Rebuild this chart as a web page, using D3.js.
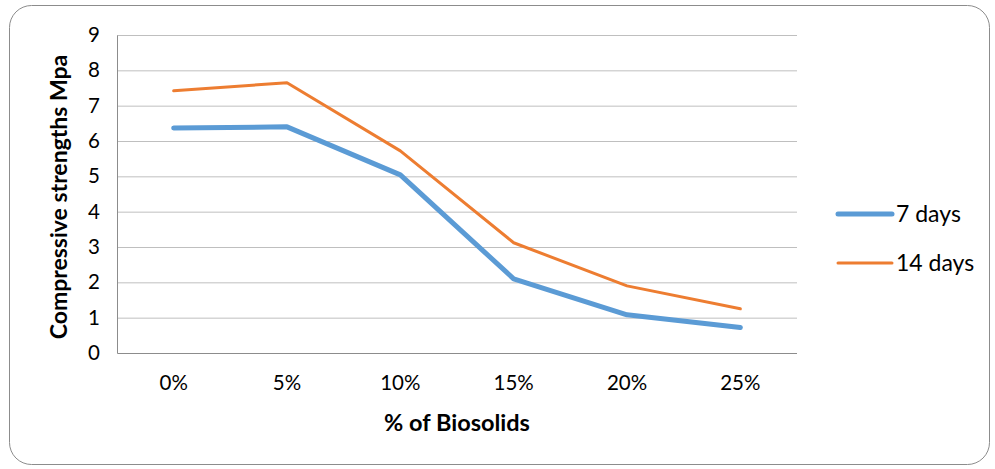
<!DOCTYPE html>
<html>
<head>
<meta charset="utf-8">
<script src="https://cdn.jsdelivr.net/npm/d3@7"></script>
<style>
  body { margin: 0; background: #fff; }
  svg text { font-family: Lato, 'Open Sans', sans-serif; fill: #000; }
</style>
</head>
<body>
<svg id="chart" width="995" height="469"></svg>
<script>
// DATA
const categories = ['0%', '5%', '10%', '15%', '20%', '25%'];
const days7 = [6.37, 6.40, 5.04, 2.10, 1.08, 0.72];
const days14 = [7.42, 7.65, 5.72, 3.12, 1.90, 1.25];
const yTicks = [0, 1, 2, 3, 4, 5, 6, 7, 8, 9];
const seriesNames = ['7 days', '14 days'];

// SETUP
const svg = d3.select('#chart'),
  margin = { top: 35, right: 198, bottom: 116, left: 117 },
  width = 995 - margin.left - margin.right,
  height = 469 - margin.top - margin.bottom;

// outer frame
svg.append('rect')
  .attr('x', 9.5).attr('y', 5.5)
  .attr('width', 980).attr('height', 459)
  .attr('rx', 22)
  .attr('fill', '#fff')
  .attr('stroke', '#8c8c8c')
  .attr('stroke-width', 1);

const x = d3.scaleBand().domain(categories).range([0, width]);
const y = d3.scaleLinear().domain([0, 9]).range([height, 0]);

const g = svg.append('g')
  .attr('transform', 'translate(' + margin.left + ',' + margin.top + ')');

// GRID
g.append('g').selectAll('line')
  .data(yTicks.filter(d => d > 0))
  .enter().append('line')
  .attr('x1', 0).attr('x2', width)
  .attr('y1', d => y(d) + 0.5).attr('y2', d => y(d) + 0.5)
  .attr('stroke', '#bfbfbf').attr('stroke-width', 1);

// AXES
const yAxis = g.append('g')
  .call(d3.axisLeft(y).tickValues(yTicks).tickSize(0).tickPadding(17));
yAxis.select('.domain').attr('stroke', '#8c8c8c');
yAxis.selectAll('text').style('font-size', '20.5px');

const xAxis = g.append('g')
  .attr('transform', 'translate(0,' + height + ')')
  .call(d3.axisBottom(x).tickSize(0).tickPadding(22));
xAxis.select('.domain').attr('stroke', '#8c8c8c').attr('d', 'M0.5,0.5H' + width);
xAxis.selectAll('text').style('font-size', '20.5px');

// AXIS TITLES
svg.append('text')
  .attr('transform', 'translate(67,' + (margin.top + height / 2 + 3) + ') rotate(-90)')
  .attr('text-anchor', 'middle')
  .style('font-size', '23px')
  .style('font-weight', 'bold')
  .text('Compressive strengths Mpa');

svg.append('text')
  .attr('x', margin.left + width / 2)
  .attr('y', 431)
  .attr('text-anchor', 'middle')
  .style('font-size', '23.5px')
  .style('font-weight', 'bold')
  .text('% of Biosolids');

// LINES
const series = [
  { name: seriesNames[0], values: days7, color: '#5b9bd5', w: 5 },
  { name: seriesNames[1], values: days14, color: '#ed7d31', w: 3 }
];
const line = d3.line()
  .x((d, i) => x(categories[i]) + x.bandwidth() / 2)
  .y(d => y(d));

g.selectAll('.series')
  .data(series)
  .enter().append('path')
  .attr('class', 'series')
  .attr('d', d => line(d.values))
  .attr('fill', 'none')
  .attr('stroke', d => d.color)
  .attr('stroke-width', d => d.w)
  .attr('stroke-linecap', 'round')
  .attr('stroke-linejoin', 'round');

// LEGEND
const legend = svg.append('g').attr('transform', 'translate(838,214)');
const items = legend.selectAll('g')
  .data(series)
  .enter().append('g')
  .attr('transform', (d, i) => 'translate(0,' + i * 49 + ')');
items.append('line')
  .attr('x1', 0).attr('x2', 54)
  .attr('stroke', d => d.color)
  .attr('stroke-width', d => d.w)
  .attr('stroke-linecap', 'round');
items.append('text')
  .attr('x', 58).attr('dy', '0.35em')
  .style('font-size', '23px')
  .text(d => d.name);
</script>
</body>
</html>
